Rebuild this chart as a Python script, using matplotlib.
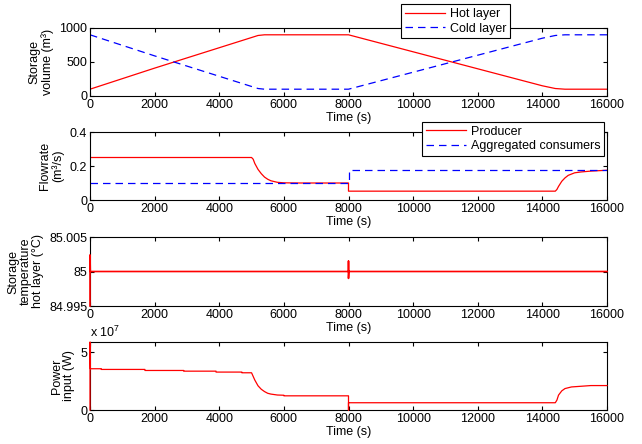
import matplotlib
matplotlib.use("Agg")
import matplotlib.pyplot as plt
from matplotlib.ticker import FuncFormatter

plt.rcParams['font.family'] = ['Liberation Sans', 'DejaVu Sans']
plt.rcParams['font.size'] = 9
plt.rcParams['mathtext.default'] = 'regular'

# Storage volumes (m3)
t_vol = [0, 1000, 2000, 3000, 4000, 5000, 5200, 5400, 8000, 9000, 10000, 11000,
         12000, 13000, 14000, 14400, 14700, 16000]
hot_vol = [100, 255, 410, 560, 710, 860, 890, 900, 900, 775, 650, 525,
           400, 275, 150, 110, 100, 100]
cold_vol = [900, 745, 590, 440, 290, 140, 110, 100, 100, 225, 350, 475,
            600, 725, 850, 890, 900, 900]

# Flowrates (m3/s)
t_prod = [0, 5000, 5050, 5100, 5200, 5300, 5400, 5500, 5600, 5800, 6000, 6500, 8000,
          8000, 14400, 14450, 14500, 14600, 14700, 14800, 15000, 15200, 15500, 16000]
q_prod = [0.25, 0.25, 0.24, 0.215, 0.18, 0.155, 0.135, 0.122, 0.113, 0.104, 0.101, 0.1, 0.1,
          0.052, 0.052, 0.062, 0.08, 0.11, 0.13, 0.145, 0.16, 0.165, 0.17, 0.175]
t_cons = [0, 8000, 8000, 16000]
q_cons = [0.1, 0.1, 0.175, 0.175]

# Hot layer temperature (degC)
t_temp = [0, 0, 10, 8000, 8000, 8000, 8010, 16000]
temp_hot = [84.995, 85.0024, 85.0, 85.0, 85.0015, 84.999, 85.0, 85.0]

# Power input (W)
t_pow = [0, 0, 10, 350, 350, 1700, 1700, 2900, 2900, 3900, 3900, 4700, 4700, 5000,
         5100, 5200, 5300, 5400, 5500, 5600, 5800, 6000, 6000, 8000, 8000, 8000,
         14400, 14450, 14500, 14600, 14700, 14900, 15200, 15500, 16000]
p_in = [0, 5.9e7, 3.58e7, 3.58e7, 3.52e7, 3.52e7, 3.43e7, 3.43e7, 3.37e7, 3.37e7, 3.29e7,
        3.29e7, 3.23e7, 3.23e7, 2.6e7, 2.1e7, 1.8e7, 1.6e7, 1.45e7, 1.38e7, 1.3e7, 1.28e7,
        1.23e7, 1.23e7, 0.0, 0.63e7, 0.63e7, 0.86e7, 1.29e7, 1.66e7, 1.86e7, 2.0e7,
        2.06e7, 2.12e7, 2.12e7]

W, H = 642, 444
fig = plt.figure(figsize=(W / 100, H / 100), dpi=100)

RED = '#ff0000'
BLUE = '#0000ff'
DASH = (0, (6, 4))


def make_ax(top_px, bottom_px):
    ax = fig.add_axes([90 / W, 1 - bottom_px / H, (607 - 90) / W, (bottom_px - top_px) / H])
    ax.tick_params(direction='in', top=True, right=True, length=3, width=0.8, pad=2)
    for s in ax.spines.values():
        s.set_linewidth(0.8)
    ax.set_xlim(0, 16000)
    ax.set_xticks(range(0, 16001, 2000))
    ax.set_xlabel('Time (s)', labelpad=1)
    return ax


def add_legend(ax, anchor):
    leg = ax.legend(loc='center', bbox_to_anchor=anchor, frameon=True, fancybox=False,
                    edgecolor='black', framealpha=1, handlelength=3.2, borderpad=0.3,
                    labelspacing=0.2, handletextpad=0.4)
    leg.get_frame().set_linewidth(0.8)


# Panel 1: storage volume
ax1 = make_ax(28, 96)
ax1.plot(t_vol, hot_vol, color=RED, lw=0.9, label='Hot layer')
ax1.plot(t_vol, cold_vol, color=BLUE, lw=0.9, ls=DASH, label='Cold layer')
ax1.set_ylim(0, 1000)
ax1.set_yticks([0, 500, 1000])
ax1.set_ylabel('Storage\nvolume (m³)', linespacing=1.0)
add_legend(ax1, (0.707, 1.096))

# Panel 2: flowrates
ax2 = make_ax(132, 200)
ax2.plot(t_prod, q_prod, color=RED, lw=0.9, label='Producer')
ax2.plot(t_cons, q_cons, color=BLUE, lw=0.9, ls=DASH, label='Aggregated consumers')
ax2.set_ylim(0, 0.4)
ax2.set_yticks([0, 0.2, 0.4])
ax2.set_yticklabels(['0', '0.2', '0.4'])
ax2.set_ylabel('Flowrate\n(m³/s)', linespacing=1.0)
add_legend(ax2, (0.818, 0.897))

# Panel 3: hot layer temperature
ax3 = make_ax(237, 306)
ax3.plot(t_temp, temp_hot, color=RED, lw=1.2, zorder=3, clip_on=False)
ax3.set_ylim(84.995, 85.005)
ax3.set_yticks([84.995, 85.0, 85.005])
ax3.set_yticklabels(['84.995', '85', '85.005'])
ax3.set_ylabel('Storage\ntemperature\nhot layer (°C)', linespacing=1.0)

# Panel 4: power input
ax4 = make_ax(342, 410)
ax4.plot(t_pow, p_in, color=RED, lw=0.9, zorder=3, clip_on=False)
ax4.set_ylim(0, 5.9e7)
ax4.set_yticks([0, 5e7])
ax4.yaxis.set_major_formatter(FuncFormatter(lambda v, p: f'{v / 1e7:g}'))
ax4.set_ylabel('Power\ninput (W)', linespacing=1.0)
ax4.text(0, 1.03, 'x 10$^{7}$', transform=ax4.transAxes, ha='left', va='bottom')

fig.savefig('out.png', dpi=100)
